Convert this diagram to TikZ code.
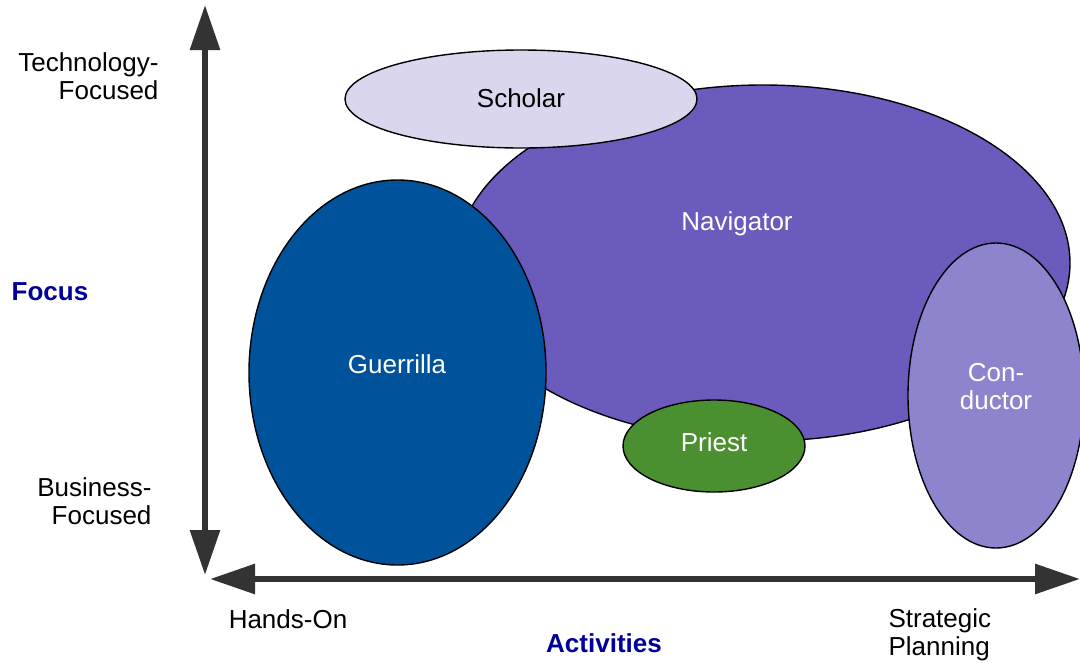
\documentclass[tikz,border=0pt]{standalone}
\usepackage{fontspec}
\setmainfont{Liberation Sans}
\usetikzlibrary{shapes.geometric}
\usetikzlibrary{arrows.meta}
\definecolor{navcol}{RGB}{106,91,189}
\definecolor{scholcol}{RGB}{217,214,238}
\definecolor{guercol}{RGB}{0,82,155}
\definecolor{priestcol}{RGB}{74,144,48}
\definecolor{condcol}{RGB}{140,132,204}
\definecolor{axiscol}{RGB}{51,51,51}
\definecolor{titlecol}{RGB}{0,0,153}

\begin{document}
\begin{tikzpicture}[x=1pt,y=-1pt,
  role/.style={ellipse,draw=black,line width=1.4pt,inner sep=0pt},
  axis/.style={draw=axiscol,line width=6pt,{Triangle[length=45pt,width=29pt]}-{Triangle[length=45pt,width=29pt]}},
  lbl/.style={font=\fontsize{26}{28}\selectfont},
  ttl/.style={font=\fontsize{26}{28}\selectfont\bfseries,text=titlecol}]
\useasboundingbox (0,0) rectangle (1080,662);
\clip (0,0) rectangle (1080,662);

%Shape: Ellipse [Navigator]
\node [role,fill=navcol,minimum width=614pt,minimum height=356pt] (navigator) at (763,263) {};
\node [lbl,text=white,anchor=base] (navtext) at (737,230) {Navigator};
%Shape: Ellipse [Scholar]
\node [role,fill=scholcol,minimum width=352pt,minimum height=98pt] (scholar) at (521,99) {};
\node [lbl,anchor=base] (scholtext) at (521,107) {Scholar};
%Shape: Ellipse [Guerrilla]
\node [role,fill=guercol,minimum width=297pt,minimum height=385pt] (guerrilla) at (397.5,372.5) {};
\node [lbl,text=white,anchor=base] (guertext) at (397,373) {Guerrilla};
%Shape: Ellipse [Priest]
\node [role,fill=priestcol,minimum width=182pt,minimum height=92pt] (priest) at (714,446) {};
\node [lbl,text=white,anchor=base] (priesttext) at (714,451) {Priest};
%Shape: Ellipse [Conductor]
\node [role,fill=condcol,minimum width=176pt,minimum height=305pt] (conductor) at (996,395.5) {};
\node [lbl,text=white,align=center] (condtext) at (996,387) {Con-\\ductor};

%Axes
\coordinate (ytop) at (205,5);
\coordinate (ybot) at (205,575);
\coordinate (xleft) at (210,579);
\coordinate (xright) at (1080,579);
\draw [axis] (ybot) -- (ytop);
\draw [axis] (xleft) -- (xright);

% Text Node
\node [lbl,align=right,anchor=east] (techfoc) at (162,76) {Technology-\\Focused};
% Text Node
\node [lbl,align=right,anchor=east] (busfoc) at (155,501) {Business-\\Focused};
% Text Node
\node [ttl] (focus) at (50,292) {Focus};
% Text Node
\node [lbl] (handson) at (288,619) {Hands-On};
% Text Node
\node [lbl,align=left,anchor=west] (strat) at (885,635) {Strategic\\Planning};
% Text Node
\node [ttl] (activ) at (604,643) {Activities};

\end{tikzpicture}
\end{document}
